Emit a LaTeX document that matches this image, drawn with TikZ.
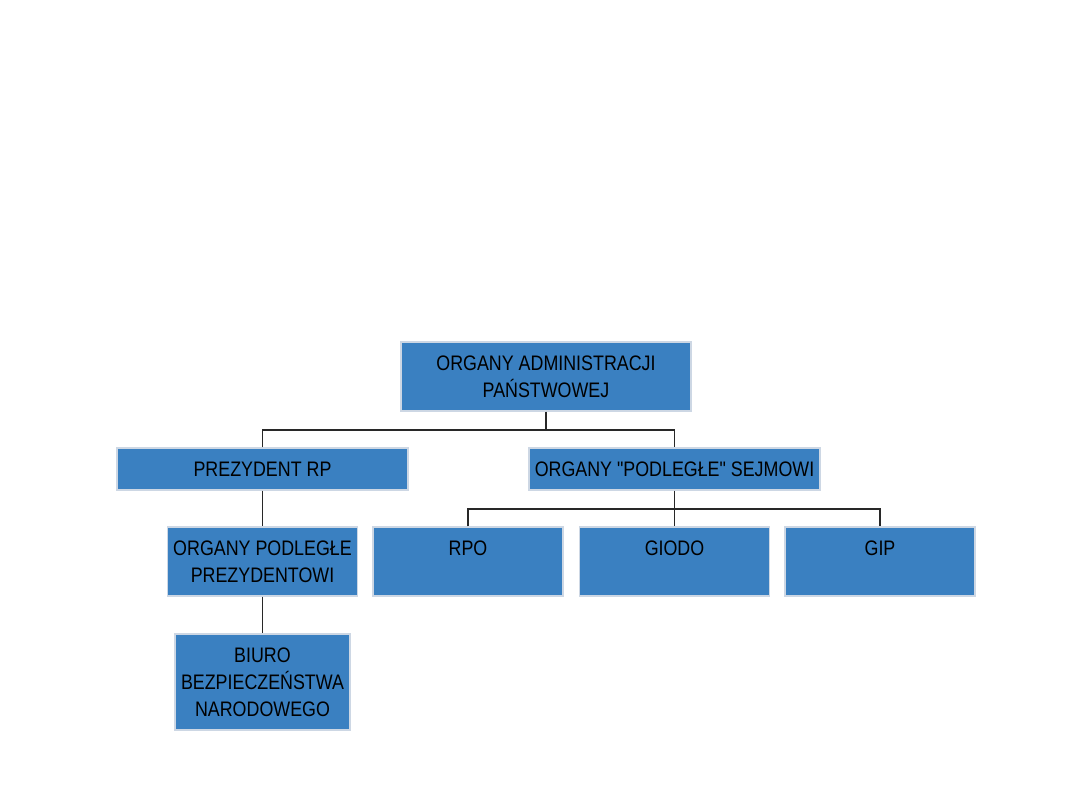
\documentclass[tikz,border=0pt]{standalone}
\usepackage{fontspec}
\setmainfont{Liberation Sans}[FakeStretch=0.85, Ligatures=TeXOff]
\definecolor{boxblue}{RGB}{58,128,193}
\definecolor{boxedge}{RGB}{205,215,228}
\definecolor{linegray}{RGB}{40,40,40}
\begin{document}
\begin{tikzpicture}[x=1pt,y=-1pt,
  orgbox/.style={draw=boxedge, line width=1.2pt, fill=boxblue, inner sep=0pt,
    align=center, text=black, font=\fontsize{21}{27}\selectfont},
  conn/.style={draw=linegray, line width=1.4pt}]
\useasboundingbox (0,0) rectangle (1080,810);
\fill[white] (0,0) rectangle (1080,810);
% boxes
\node[orgbox, minimum width=290pt, minimum height=69pt] (top) at (546,376.5) {ORGANY ADMINISTRACJI\\PAŃSTWOWEJ};
\node[orgbox, minimum width=291pt, minimum height=42pt] (prez) at (262.5,469) {PREZYDENT RP};
\node[orgbox, minimum width=291pt, minimum height=42pt] (sejm) at (674.5,469) {ORGANY "PODLEGŁE" SEJMOWI};
\node[orgbox, minimum width=190pt, minimum height=69pt] (podl) at (262.5,561.5) {ORGANY PODLEGŁE\\PREZYDENTOWI};
\node[orgbox, minimum width=175pt, minimum height=96pt] (bbn) at (262.5,682) {BIURO\\BEZPIECZEŃSTWA\\NARODOWEGO};
\node[orgbox, minimum width=190pt, minimum height=69pt] (rpo) at (468,561.5) {RPO\\\mbox{}};
\node[orgbox, minimum width=190pt, minimum height=69pt] (giodo) at (674.5,561.5) {GIODO\\\mbox{}};
\node[orgbox, minimum width=190pt, minimum height=69pt] (gip) at (880,561.5) {GIP\\\mbox{}};
% connectors
\coordinate (j1) at (546,430);
\coordinate (j2) at (674.5,509);
\draw[conn] (top.south) -- (j1);
\draw[conn] (prez.north) |- (j1) -| (sejm.north);
\draw[conn] (prez.south) -- (podl.north);
\draw[conn] (podl.south) -- (bbn.north);
\draw[conn] (sejm.south) -- (giodo.north);
\draw[conn] (rpo.north) |- (j2) -| (gip.north);
\end{tikzpicture}
\end{document}
